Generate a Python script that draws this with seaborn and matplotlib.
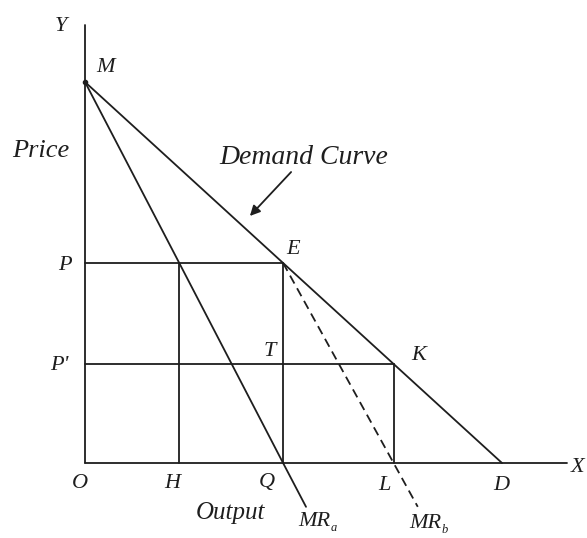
"""Monopoly price discrimination diagram: demand curve with two MR curves."""

import matplotlib.pyplot as plt
import seaborn as sns
import pandas as pd

# values (price axis 0..10, output axis 0..10)
price_M = 10.0
price_P = 5.25
price_P2 = 2.6
output_H = 2.26
output_Q = 4.75
output_L = 7.4
output_D = 10.0

demand_x = [0.0, output_D]
demand_y = [price_M, 0.0]
mr_a_x = [0.0, output_H, output_Q, 5.30]
mr_a_y = [price_M, price_P, 0.0, -1.15]
mr_b_x = [output_Q, output_L, 7.98]
mr_b_y = [price_P, 0.0, -1.15]

axis_top = 11.5
axis_right = 11.56

sns.set_style("white")
plt.rcParams['font.family'] = ['Liberation Serif', 'DejaVu Serif']

fig = plt.figure(figsize=(5.87, 5.38), dpi=100)
ax = fig.add_axes([0, 0, 1, 1])
ax.set_xlim(-85 / 41.7, 502 / 41.7)
ax.set_ylim(-75 / 38.1, 463 / 38.1)
ax.axis('off')

ink = '#1e1e1e'
lw = 1.3

# axes
ax.plot([0, 0], [0, axis_top], color=ink, lw=lw)
ax.plot([0, axis_right], [0, 0], color=ink, lw=lw)

demand = pd.DataFrame({'x': demand_x, 'y': demand_y})
mr_a = pd.DataFrame({'x': mr_a_x, 'y': mr_a_y})
mr_b = pd.DataFrame({'x': mr_b_x, 'y': mr_b_y})
sns.lineplot(data=demand, x='x', y='y', ax=ax, color=ink, lw=lw, sort=False)
sns.lineplot(data=mr_a, x='x', y='y', ax=ax, color=ink, lw=lw, sort=False)
sns.lineplot(data=mr_b, x='x', y='y', ax=ax, color=ink, lw=lw, sort=False,
             linestyle=(0, (5, 3)))

# price levels and verticals
ax.plot([0, output_Q], [price_P, price_P], color=ink, lw=lw)
ax.plot([0, output_L], [price_P2, price_P2], color=ink, lw=lw)
ax.plot([output_H, output_H], [0, price_P], color=ink, lw=lw)
ax.plot([output_Q, output_Q], [0, price_P], color=ink, lw=lw)
ax.plot([output_L, output_L], [0, price_P2], color=ink, lw=lw)
ax.plot([0], [price_M], marker='o', ms=3, color=ink)


def px(x, y):
    return (x - 85) / 41.7, (463 - y) / 38.1


def label(s, x, y, size=16):
    ax.text(*px(x, y), s, style='italic', color=ink, fontsize=size,
            ha='center', va='center')


for s, x, y in [('Y', 61, 27), ('M', 106, 68), ('E', 293, 250),
                ('P', 65, 265), ("P'", 59, 366), ('T', 270, 351),
                ('K', 419, 356), ('O', 80, 483), ('H', 172, 483),
                ('Q', 267, 482), ('L', 384, 485), ('D', 501, 486),
                ('X', 578, 467)]:
    label(s, x, y)

label('Price', 41, 151, 19)
label('Demand Curve', 304, 157, 20)
label('Output', 230, 513, 18)

label('MR', 314, 522, 16)
label('a', 334, 528, 9)
label('MR', 425, 524, 16)
label('b', 445, 530, 9)

ax.annotate('', xy=px(248, 218), xytext=px(293, 170),
            arrowprops=dict(arrowstyle='-|>', color=ink, lw=1.3,
                            mutation_scale=15))

fig.savefig('out.png', dpi=100)
